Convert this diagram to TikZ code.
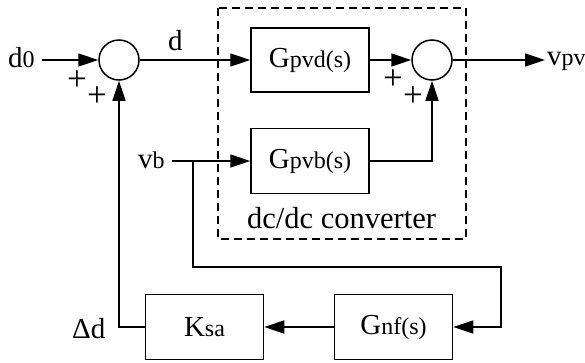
\documentclass[tikz,border=0pt]{standalone}
\usepackage{fontspec}
\setmainfont{Liberation Serif}
\usepackage{tikz}
\usetikzlibrary{shapes,arrows,arrows.meta,positioning}
\newcommand{\smtxt}[1]{{\fontsize{24}{28}\selectfont #1}}
\tikzset{
	block/.style={draw, line width=1.5pt, minimum width=118pt, minimum height=64pt, inner sep=0pt, font=\fontsize{29}{32}\selectfont},
	sumnode/.style={draw, circle, line width=1.5pt, minimum size=40pt, inner sep=0pt},
	lbl/.style={inner sep=0pt, font=\fontsize{29}{32}\selectfont},
	sgn/.style={inner sep=0pt, font=\fontsize{35}{38}\selectfont},
	conn/.style={line width=1.5pt},
	arr/.style={conn, -{Triangle[length=20pt,width=13pt]}},
	convbox/.style={draw, dashed, dash pattern=on 8pt off 5pt, line width=1.5pt}
}

\begin{document}
\begin{tikzpicture}[x=1pt,y=-1pt]
		\useasboundingbox (0,0) rectangle (585,362);
		% converter frame
		\draw[convbox] (218,8) rectangle (466,239);
		\node[lbl, anchor=base west, font=\fontsize{30.5}{34}\selectfont] (conv) at (247,228) {dc/dc converter};

		\node[sumnode] (sum1) at (119,60) {};
		\node[sumnode] (sum2) at (432,60) {};
		\node[block] (gpvd) at (310,60) {G\smtxt{pvd(s)}};
		\node[block, minimum height=65pt] (gpvb) at (310,161) {G\smtxt{pvb(s)}};
		\node[block, minimum height=65pt] (gnf) at (393.5,327) {G\smtxt{nf(s)}};
		\node[block, minimum height=65pt] (ksa) at (204.5,327) {K\smtxt{sa}};

		\node[lbl, anchor=base west] (d0) at (8,67) {d\smtxt{0}};
		\node[lbl, anchor=base west] (dlbl) at (168,50) {d};
		\node[lbl, anchor=base west] (vb) at (138,168) {v\smtxt{b}};
		\node[lbl, anchor=base west] (vpv) at (547,65) {v\smtxt{pv}};
		\node[lbl, anchor=base west] (dd) at (72,338) {Δd};

		\node[sgn] (p1) at (77,81) {+};
		\node[sgn] (p2) at (97,97) {+};
		\node[sgn] (p3) at (393,80) {+};
		\node[sgn] (p4) at (413,97) {+};

		\coordinate (br) at (193,161);
		\coordinate (fb) at (501,267);

		\draw[arr, shorten <=7pt] (d0.east |- sum1) -- (sum1.west);
		\draw[arr] (sum1.east) -- (gpvd.west);
		\draw[arr] (gpvd.east) -- (sum2.west);
		\draw[arr, shorten >=2pt] (sum2.east) -- (vpv.west |- sum2);
		\draw[arr, shorten <=7pt] (vb.east |- gpvb) -- (gpvb.west);
		\draw[arr] (gpvb.east) -| (sum2.south);
		\draw[arr] (br) |- (fb) |- (gnf.east);
		\draw[arr] (gnf.west) -- (ksa.east);
		\draw[arr] (ksa.west) -| (sum1.south);
\end{tikzpicture}
\end{document}
